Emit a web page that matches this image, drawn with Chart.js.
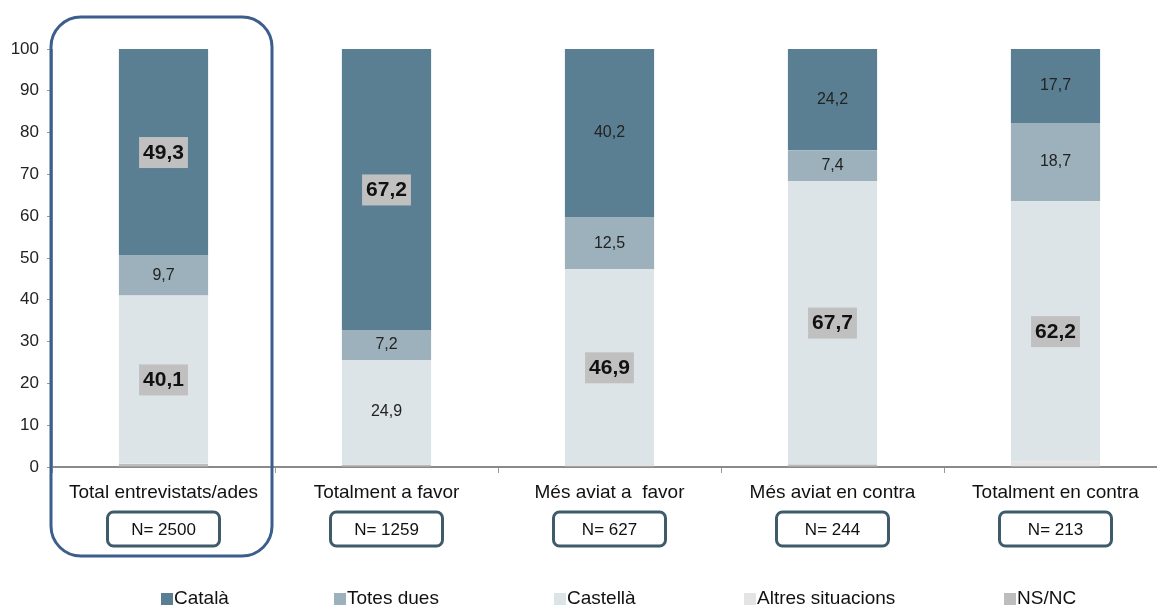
<!DOCTYPE html>
<html>
<head>
<meta charset="utf-8">
<script src="https://cdn.jsdelivr.net/npm/chart.js@4/dist/chart.umd.min.js"></script>
<style>
  html, body { margin: 0; padding: 0; background: #fff; overflow: hidden; }
  #wrap { position: relative; width: 1167px; height: 608px; }
</style>
</head>
<body>
<div id="wrap"><canvas id="chart"></canvas></div>
<script>
const categories = ["Total entrevistats/ades", "Totalment a favor", "Més aviat a  favor", "Més aviat en contra", "Totalment en contra"];
const sampleSizes = ["N= 2500", "N= 1259", "N= 627", "N= 244", "N= 213"];
const catala = [49.3, 67.2, 40.2, 24.2, 17.7];
const totesDues = [9.7, 7.2, 12.5, 7.4, 18.7];
const castella = [40.1, 24.9, 46.9, 67.7, 62.2];
const altres = [0.2, 0.2, 0.1, 0.1, 1.2];
const nsnc = [0.7, 0.5, 0.3, 0.6, 0.2];
const yTicks = [0, 10, 20, 30, 40, 50, 60, 70, 80, 90, 100];

const colors = {
    catala: "#5b7f92",
    totesDues: "#9db1bd",
    castella: "#dde4e8",
    altres: "#e4e4e4",
    nsnc: "#bdbdbd"
};
const FONT = "'Liberation Sans', Arial, sans-serif";

// etiquetes de valor dins les barres
const valueLabels = {
    id: "valueLabels",
    afterDatasetsDraw(chart) {
        const ctx = chart.ctx;
        [2, 3, 4].forEach(di => {
            const ds = chart.data.datasets[di];
            const meta = chart.getDatasetMeta(di);
            meta.data.forEach((bar, i) => {
                const v = ds.data[i];
                const colMax = Math.max(catala[i], totesDues[i], castella[i]);
                const strong = v === colMax || (i === 0 && v >= 40);
                const txt = v.toFixed(1).replace(".", ",");
                const cy = (bar.y + bar.base) / 2;
                ctx.save();
                ctx.textAlign = "center";
                ctx.textBaseline = "middle";
                if (strong) {
                    ctx.font = "bold 21px " + FONT;
                    const w = ctx.measureText(txt).width + 8;
                    ctx.fillStyle = "#c0c0c0";
                    ctx.fillRect(bar.x - w / 2, cy - 15, w, 31);
                    ctx.fillStyle = "#111";
                    ctx.fillText(txt, bar.x, cy + 1);
                } else {
                    ctx.font = "16px " + FONT;
                    ctx.fillStyle = "#222";
                    ctx.fillText(txt, bar.x, cy);
                }
                ctx.restore();
            });
        });
    }
};

// caixes N=, marc del total i llegenda
const extras = {
    id: "extras",
    afterDraw(chart) {
        const ctx = chart.ctx;
        const x = chart.scales.x;
        const step = x.getPixelForValue(1) - x.getPixelForValue(0);

        const roundRect = (l, t, w, h, r) => {
            ctx.beginPath();
            ctx.moveTo(l + r, t);
            ctx.arcTo(l + w, t, l + w, t + h, r);
            ctx.arcTo(l + w, t + h, l, t + h, r);
            ctx.arcTo(l, t + h, l, t, r);
            ctx.arcTo(l, t, l + w, t, r);
            ctx.closePath();
        };

        // caixes N=
        sampleSizes.forEach((n, i) => {
            const cx = x.getPixelForValue(i);
            ctx.save();
            ctx.strokeStyle = "#3f5b6b";
            ctx.lineWidth = 3;
            roundRect(cx - 56, 512, 112, 34, 6);
            ctx.stroke();
            ctx.font = "17px " + FONT;
            ctx.fillStyle = "#111";
            ctx.textAlign = "center";
            ctx.textBaseline = "middle";
            ctx.fillText(n, cx, 530);
            ctx.restore();
        });

        // marc al voltant del total
        const c0 = x.getPixelForValue(0);
        ctx.save();
        ctx.strokeStyle = "#3b5e8c";
        ctx.lineWidth = 3;
        roundRect(c0 - step / 2 - 1, 17, step - 2, 539, 30);
        ctx.stroke();
        ctx.restore();

        // llegenda
        const legend = [
            ["Català", colors.catala, 161],
            ["Totes dues", colors.totesDues, 334],
            ["Castellà", colors.castella, 554],
            ["Altres situacions", colors.altres, 744],
            ["NS/NC", colors.nsnc, 1004]
        ];
        ctx.save();
        ctx.font = "19px " + FONT;
        ctx.textBaseline = "middle";
        legend.forEach(([name, col, lx]) => {
            ctx.fillStyle = col;
            ctx.fillRect(lx, 593, 12, 12);
            ctx.fillStyle = "#111";
            ctx.fillText(name, lx + 13, 599);
        });
        ctx.restore();
    }
};

const mk = (label, data, color) => ({
    label, data,
    backgroundColor: color,
    borderWidth: 0,
    categoryPercentage: 1,
    barPercentage: 0.4
});

new Chart(document.getElementById("chart"), {
    type: "bar",
    data: {
        labels: categories,
        datasets: [
            mk("NS/NC", nsnc, colors.nsnc),
            mk("Altres situacions", altres, colors.altres),
            mk("Castellà", castella, colors.castella),
            mk("Totes dues", totesDues, colors.totesDues),
            mk("Català", catala, colors.catala)
        ]
    },
    options: {
        responsive: true,
        maintainAspectRatio: false,
        animation: false,
        layout: { padding: { top: 49, left: 0, right: 0, bottom: 0 } },
        plugins: { legend: { display: false }, tooltip: { enabled: false } },
        scales: {
            x: {
                stacked: true,
                grid: { drawOnChartArea: false, drawTicks: true, tickLength: 6, color: "#9a9a9a" },
                border: { display: true, color: "#8a8a8a", width: 2 },
                ticks: { color: "#111", font: { family: FONT, size: 19 }, padding: 8, maxRotation: 0 },
                afterFit(scale) { scale.height = 141; }
            },
            y: {
                stacked: true,
                min: 0,
                max: 100,
                afterBuildTicks(scale) { scale.ticks = yTicks.map(v => ({ value: v })); },
                grid: { drawOnChartArea: false, drawTicks: true, tickLength: 5, color: "#9a9a9a" },
                border: { display: true, color: "#9a9a9a", width: 1 },
                ticks: { color: "#222", font: { family: FONT, size: 17 }, padding: 8 },
                afterFit(scale) { scale.width = 52; }
            }
        }
    },
    plugins: [valueLabels, extras]
});
</script>
</body>
</html>
